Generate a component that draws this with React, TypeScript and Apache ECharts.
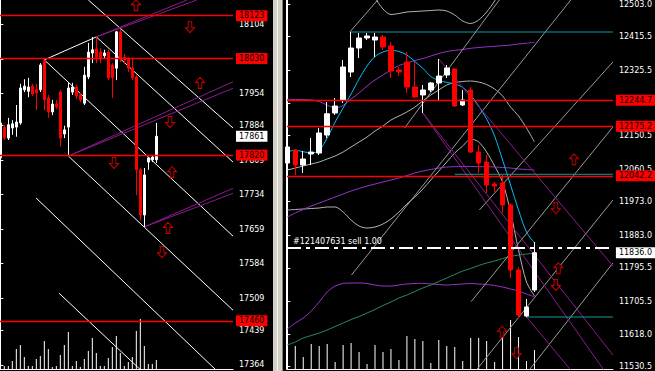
import React, { useEffect, useRef } from "react";
import * as echarts from "echarts";

// ---------------- LEFT PANEL (bar index, price) ----------------
const leftOpen = [17814, 17881, 17857, 17879, 17881, 17890, 17962, 17959, 17970, 17962, 17962, 18025, 17944, 17914, 17931, 17957, 17866, 17881, 17957, 17968, 17951, 17933, 17990, 18042, 18051, 18044, 18036, 18044, 18016, 18009, 18088, 18033, 18029, 18009, 17990, 17788, 17690, 17805, 17810, 17810];
const leftClose = [17890, 17857, 17886, 17888, 17892, 17966, 17970, 17968, 17953, 17955, 18016, 17940, 17914, 17931, 17925, 17857, 17875, 17966, 17968, 17949, 17940, 17994, 18044, 18049, 18033, 18031, 18042, 17988, 17988, 18088, 18029, 18027, 18009, 17988, 17788, 17690, 17777, 17814, 17816, 17861];
const leftLow = [17803, 17853, 17853, 17864, 17860, 17886, 17957, 17946, 17949, 17918, 17957, 17918, 17901, 17907, 17920, 17838, 17857, 17818, 17951, 17942, 17935, 17929, 17985, 18020, 18020, 18020, 18031, 17983, 17944, 17983, 18022, 18018, 18001, 17983, 17733, 17679, 17664, 17788, 17805, 17803];
const leftHigh = [17901, 17886, 17901, 17896, 17929, 17975, 17985, 17988, 17975, 17975, 18020, 18027, 17951, 17940, 17940, 17962, 17884, 17977, 17977, 17973, 17955, 18012, 18064, 18077, 18077, 18053, 18049, 18049, 18020, 18090, 18094, 18040, 18033, 18031, 17994, 17792, 17792, 17816, 17820, 17890];
const leftVolume = [190, 30, 30, 80, 200, 240, 120, 30, 30, 100, 130, 280, 200, 20, 30, 140, 240, 370, 30, 80, 20, 100, 180, 310, 160, 30, 30, 110, 220, 330, 160, 30, 70, 120, 380, 500, 230, 50, 50, 90];

const leftTicks = [17364, 17439, 17509, 17584, 17659, 17734, 17809, 17884, 17954, 18029, 18104];
const leftLevels = [18123, 18030, 17820, 17460];
const leftBid = 17861;

const leftWhiteLines = [
  [[11, 18027], [24, 18077]],
  [[22, 18157.2], [58.17, 17879]],
  [[24, 18077], [58.17, 17805]],
  [[11, 18027], [58.17, 17644]],
  [[17, 17818], [58.17, 17483]],
  [[8.92, 17727], [53.92, 17353]],
  [[14.67, 17520], [35.1, 17353]],
];
const leftPurpleLines = [
  [[17, 17818], [58.17, 17979.6]],
  [[17, 17818], [58.17, 17965.3]],
  [[36, 17664], [58.17, 17748]],
  [[36, 17664], [58.17, 17737]],
  [[24, 18077], [46.67, 18157.2]],
  [[24, 18077], [49.1, 18157.2]],
];
const leftArrowsUp = [[33.92, 18146], [49.92, 17977], [42.92, 17783], [41.92, 17662]];
const leftArrowsDown = [[47.42, 18098], [42.42, 17892], [28.42, 17803], [40.42, 17609]];

// ---------------- RIGHT PANEL ----------------
const rightOpen = [12076.6, 12111.5, 12071.3, 12100.8, 12103.5, 12151.7, 12210.7, 12245.6, 12320.6, 12385.0, 12411.8, 12406.4, 12414.5, 12390.4, 12326.0, 12347.5, 12280.4, 12259.0, 12272.4, 12291.2, 12312.6, 12328.7, 12232.2, 12272.4, 12106.1, 12079.3, 12020.3, 12023.0, 11964.0, 11789.7, 11666.4, 11736.1];
const rightClose = [12119.6, 12071.3, 12087.4, 12106.1, 12157.1, 12208.7, 12229.5, 12334.1, 12385.0, 12411.8, 12417.2, 12414.5, 12387.7, 12323.3, 12320.6, 12280.4, 12253.6, 12272.4, 12291.2, 12309.9, 12331.4, 12229.5, 12245.6, 12106.1, 12076.6, 12017.7, 12015.0, 11964.0, 11789.7, 11669.1, 11690.5, 11836.0];
const rightLow = [12071.3, 12044.5, 12049.8, 12071.3, 12098.1, 12143.7, 12205.4, 12237.5, 12307.2, 12358.2, 12406.4, 12360.9, 12379.6, 12304.6, 12309.9, 12264.3, 12250.9, 12210.7, 12267.0, 12245.6, 12304.6, 12226.8, 12229.5, 12103.5, 12049.8, 11996.2, 11998.9, 11942.6, 11768.3, 11661.0, 11663.7, 11730.8];
const rightHigh = [12130.3, 12114.2, 12108.8, 12143.7, 12170.5, 12240.2, 12250.9, 12352.8, 12427.9, 12425.2, 12425.2, 12425.2, 12419.9, 12401.1, 12334.1, 12374.3, 12347.5, 12285.8, 12293.8, 12355.5, 12339.4, 12331.4, 12272.4, 12280.4, 12124.9, 12098.1, 12025.7, 12044.5, 11969.4, 11797.8, 11712.0, 11864.8];
const rightVolume = [217, 230, 120, 250, 230, 250, 70, 240, 260, 170, 50, 240, 170, 200, 90, 330, 300, 280, 60, 290, 230, 220, 80, 310, 310, 280, 70, 340, 490, 320, 80, 190];

const cyanMA = [12106.9, 12110.7, 12106.9, 12103.5, 12110.2, 12143.7, 12186.6, 12224.1, 12261.7, 12301.9, 12336.7, 12362.2, 12374.3, 12378.8, 12375.6, 12366.2, 12348.8, 12330.6, 12308.6, 12297.9, 12293.0, 12288.5, 12279.1, 12259.0, 12229.5, 12194.6, 12149.0, 12084.7, 12017.7, 11950.6, 11891.6, 11862.1];
const bandUpper = [12621.0, 12615.6, 12607.5, 12602.2, 12599.5, 12594.1, 12588.8, 12594.1, 12588.8, 12572.7, 12545.9, 12519.1, 12489.6, 12474.8, 12477.5, 12481.5, 12482.9, 12484.2, 12485.5, 12486.9, 12484.2, 12473.5, 12457.4, 12450.7, 12460.1, 12481.5, 12511.0, 12545.9, 12594.1, 12634.4, 12669.2, 12688.0];
const bandMiddle = [12057.9, 12063.2, 12068.6, 12074.0, 12079.3, 12087.4, 12095.4, 12106.1, 12119.6, 12133.0, 12146.4, 12162.4, 12175.9, 12191.9, 12202.7, 12213.4, 12226.8, 12242.9, 12259.0, 12272.4, 12285.8, 12292.5, 12295.2, 12296.5, 12293.8, 12287.1, 12275.1, 12256.3, 12226.8, 12202.7, 12170.5, 12133.0];
const bandLower = [11950.6, 11952.0, 11953.3, 11954.6, 11956.0, 11958.7, 11958.7, 11945.3, 11923.8, 11907.7, 11902.4, 11905.0, 11913.1, 11926.5, 11945.3, 11966.7, 11985.5, 12006.9, 12031.1, 12055.2, 12079.3, 12103.5, 12122.2, 12141.0, 12133.0, 12106.1, 12068.6, 12025.7, 11945.3, 11843.4, 11757.6, 11720.0];
const envUpper = [12247.4, 12246.9, 12246.4, 12245.6, 12241.5, 12232.2, 12224.1, 12230.8, 12248.3, 12264.3, 12283.1, 12299.2, 12312.6, 12326.0, 12338.1, 12344.8, 12351.5, 12356.8, 12363.5, 12370.3, 12375.6, 12378.8, 12381.0, 12384.2, 12386.3, 12388.2, 12389.6, 12391.2, 12392.8, 12395.7, 12397.9, 12400.3];
const envMiddle = [11931.9, 11942.6, 11952.0, 11961.4, 11969.4, 11977.4, 11985.5, 11993.5, 12001.6, 12008.3, 12015.0, 12020.3, 12025.7, 12031.1, 12036.4, 12043.1, 12049.8, 12055.2, 12059.2, 12063.2, 12065.9, 12066.7, 12067.3, 12067.3, 12066.7, 12066.7, 12065.9, 12064.6, 12063.2, 12060.6, 12059.2, 12057.9];
const envLower = [11631.6, 11647.6, 11661.0, 11679.8, 11703.9, 11730.8, 11746.8, 11753.6, 11754.9, 11754.9, 11753.6, 11749.5, 11746.8, 11746.8, 11749.5, 11752.2, 11753.6, 11754.1, 11752.2, 11750.9, 11749.5, 11750.9, 11752.2, 11753.6, 11752.2, 11750.9, 11748.2, 11744.2, 11738.8, 11733.4, 11725.4, 11717.4];
const slowMA = [11588.7, 11596.7, 11607.4, 11614.1, 11620.8, 11628.9, 11638.3, 11647.6, 11657.0, 11665.1, 11674.5, 11683.8, 11694.6, 11703.9, 11714.7, 11722.7, 11732.1, 11741.5, 11749.5, 11758.9, 11768.3, 11777.7, 11787.1, 11793.8, 11801.8, 11808.5, 11813.9, 11820.6, 11825.9, 11830.0, 11832.6, 11834.5];

const rightTicks = [11530.5, 11618.0, 11705.5, 11795.5, 11883.0, 11973.0, 12060.5, 12150.5, 12238.0, 12325.5, 12415.5, 12503.0];
const rightLevels = [12244.7, 12175.2, 12042.2];
const rightBid = 11836.0;
const orderPrice = 11850.6;
const orderText = "#121407631 sell 1.00";

const rightGreyLines = [
  [[8.05, 11776.3], [35.55, 12513.7]],
  [[23.05, 11704.8], [40.84, 12173.2]],
  [[23.71, 11521.6], [40.84, 11977.4]],
  [[30.34, 11521.6], [40.84, 11808.5]],
  [[14.71, 12170.5], [26.59, 12513.7]],
  [[7.84, 12427.9], [11.34, 12513.7]],
  [[24.09, 11950.6], [40.84, 12347.5]],
];
const rightPurpleLines = [
  [[17, 12210.7], [40.84, 11561.8]],
  [[17, 12210.7], [39.7, 11521.6]],
  [[19, 12355.5], [40.84, 11800.5]],
  [[30, 11663.7], [35.55, 11521.6]],
];
const rightTealLines = [
  [[8, 12427.9], [40.84, 12427.9]],
  [[21, 12046.4], [40.84, 12046.4]],
  [[30, 11663.7], [40.84, 11663.7]],
];
const rightArrowsUp = [[35.96, 12086.6], [34.0, 11794.3], [26.93, 11624.3]];
const rightArrowsDown = [[33.68, 11955.2], [33.68, 11749.5], [28.75, 11566.4]];

// ---------------- helpers ----------------
const FONT = "DejaVu Sans";
const UP_ARROW = "path://M5,0L10,5L7,5L7,11L3,11L3,5L0,5Z";
const DOWN_ARROW = "path://M3,0L7,0L7,6L10,6L5,11L0,6L3,6Z";

const seg = (pts: number[][], color: string, xi: number, yi: number) => ({
  type: "line",
  xAxisIndex: xi,
  yAxisIndex: yi,
  data: pts,
  symbol: "none",
  silent: true,
  clip: true,
  z: 3,
  lineStyle: { color, width: 1 },
});

const curve = (vals: number[], color: string, xi: number, yi: number) => ({
  type: "line",
  xAxisIndex: xi,
  yAxisIndex: yi,
  data: vals.map((v, i) => [i, v]),
  symbol: "none",
  silent: true,
  clip: true,
  smooth: 0.3,
  z: 2,
  lineStyle: { color, width: 1 },
});

const arrows = (pts: number[][], up: boolean, xi: number, yi: number) => ({
  type: "scatter",
  xAxisIndex: xi,
  yAxisIndex: yi,
  data: pts,
  symbol: up ? UP_ARROW : DOWN_ARROW,
  symbolSize: [9, 11],
  silent: true,
  z: 6,
  itemStyle: { color: "#000", borderColor: "#ff0000", borderWidth: 1 },
});

const boxLabel = (text: string, bg: string) => ({
  show: true,
  position: "end",
  distance: 3,
  formatter: () => text,
  backgroundColor: bg,
  color: "#000000",
  opacity: 1,
  fontFamily: FONT,
  fontSize: 8,
  padding: [2, 3, 1, 3],
});

const levelLine = (v: number, digits: number) => ({
  yAxis: v,
  lineStyle: { color: "#ff0000", width: 1.4, type: "solid" },
  label: boxLabel(v.toFixed(digits), "#ff0000"),
});

const bidLine = (v: number, digits: number) => ({
  yAxis: v,
  lineStyle: { color: "rgba(0,0,0,0)", width: 1, type: "solid" },
  label: boxLabel(v.toFixed(digits), "#ffffff"),
});

const priceAxis = (grid: number, min: number, max: number, ticks: number[], digits: number) => ({
  type: "value",
  gridIndex: grid,
  position: "right",
  min,
  max,
  scale: true,
  axisLine: { show: true, lineStyle: { color: "#ffffff", width: 1 } },
  axisTick: { show: true, length: 3, inside: false, customValues: ticks, lineStyle: { color: "#ffffff" } },
  axisLabel: {
    show: true,
    customValues: ticks,
    margin: 6,
    color: "#ffffff",
    fontFamily: FONT,
    fontSize: 8,
    formatter: (v: number) => v.toFixed(digits),
  },
  splitLine: { show: false },
});

const volAxis = (grid: number) => ({
  type: "value",
  gridIndex: grid,
  min: 0,
  max: 3690,
  show: false,
  splitLine: { show: false },
});

const timeAxis = (grid: number, min: number, max: number) => ({
  type: "value",
  gridIndex: grid,
  min,
  max,
  axisLine: { show: true, onZero: false, lineStyle: { color: "#ffffff", width: 1 } },
  axisTick: { show: false },
  axisLabel: { show: false },
  splitLine: { show: false },
});

const candleStyle = {
  color: "#ffffff",
  color0: "#ff0000",
  borderColor: "#ffffff",
  borderColor0: "#ff0000",
  borderWidth: 1,
};

function buildOption() {
  const leftCandles = leftOpen.map((o, i) => [i, o, leftClose[i], leftLow[i], leftHigh[i]]);
  const rightCandles = rightOpen.map((o, i) => [i, o, rightClose[i], rightLow[i], rightHigh[i]]);

  const series: any[] = [
    {
      type: "bar",
      xAxisIndex: 0,
      yAxisIndex: 1,
      data: leftVolume.map((v, i) => [i, v]),
      barWidth: 1,
      silent: true,
      z: 1,
      itemStyle: { color: "#ffffff" },
    },
    {
      type: "bar",
      xAxisIndex: 1,
      yAxisIndex: 3,
      data: rightVolume.map((v, i) => [i, v]),
      barWidth: 1,
      silent: true,
      z: 1,
      itemStyle: { color: "#ffffff" },
    },
    curve(bandUpper, "#b4b4b4", 1, 2),
    curve(bandMiddle, "#b4b4b4", 1, 2),
    curve(bandLower, "#b4b4b4", 1, 2),
    curve(envUpper, "#9932cc", 1, 2),
    curve(envMiddle, "#9932cc", 1, 2),
    curve(envLower, "#9932cc", 1, 2),
    curve(slowMA, "#2e8b57", 1, 2),
    curve(cyanMA, "#00bfff", 1, 2),
    {
      type: "candlestick",
      xAxisIndex: 0,
      yAxisIndex: 0,
      data: leftCandles,
      barWidth: 3,
      silent: true,
      z: 4,
      itemStyle: candleStyle,
      markLine: {
        silent: true,
        symbol: ["none", "none"],
        precision: 1,
        data: [...leftLevels.map((v) => levelLine(v, 0)), bidLine(leftBid, 0)],
      },
    },
    {
      type: "candlestick",
      xAxisIndex: 1,
      yAxisIndex: 2,
      data: rightCandles,
      barWidth: 5,
      silent: true,
      z: 4,
      itemStyle: candleStyle,
      markLine: {
        silent: true,
        symbol: ["none", "none"],
        precision: 1,
        data: [
          ...rightLevels.map((v) => levelLine(v, 1)),
          bidLine(rightBid, 1),
          {
            yAxis: orderPrice,
            lineStyle: { color: "#ffffff", width: 2, type: [14, 5, 4, 5] },
            label: {
              show: true,
              position: "insideStartTop",
              distance: [6, 2],
              formatter: () => orderText,
              color: "#ffffff",
              fontFamily: FONT,
              fontSize: 8,
            },
          },
        ],
      },
    },
  ];

  leftWhiteLines.forEach((l) => series.push(seg(l, "#ffffff", 0, 0)));
  leftPurpleLines.forEach((l) => series.push(seg(l, "#8b1c8b", 0, 0)));
  rightGreyLines.forEach((l) => series.push(seg(l, "#9a9a9a", 1, 2)));
  rightPurpleLines.forEach((l) => series.push(seg(l, "#8b1c8b", 1, 2)));
  rightTealLines.forEach((l) => series.push(seg(l, "#119c9c", 1, 2)));
  series.push(arrows(leftArrowsUp, true, 0, 0));
  series.push(arrows(leftArrowsDown, false, 0, 0));
  series.push(arrows(rightArrowsUp, true, 1, 2));
  series.push(arrows(rightArrowsDown, false, 1, 2));

  return {
    animation: false,
    backgroundColor: "#000000",
    textStyle: { fontFamily: FONT },
    grid: [
      { left: 0, top: 0, width: 233, height: 369 },
      { left: 287, top: 0, width: 327, height: 369 },
    ],
    xAxis: [timeAxis(0, -0.0825, 58.1675), timeAxis(1, -0.0375, 40.8375)],
    yAxis: [
      priceAxis(0, 17355.2, 18157.2, leftTicks, 0),
      volAxis(0),
      priceAxis(1, 11524.3, 12513.7, rightTicks, 1),
      volAxis(1),
    ],
    series,
    graphic: [
      { type: "rect", silent: true, shape: { x: 273, y: 0, width: 10, height: 371 }, style: { fill: "#d4d0c8" } },
      { type: "line", silent: true, shape: { x1: 277.5, y1: 0, x2: 277.5, y2: 371 }, style: { stroke: "#f4f4f4", lineWidth: 1 } },
      { type: "line", silent: true, shape: { x1: 282.5, y1: 0, x2: 282.5, y2: 371 }, style: { stroke: "#808080", lineWidth: 1 } },
      { type: "line", silent: true, shape: { x1: 286.5, y1: 0, x2: 286.5, y2: 369.5 }, style: { stroke: "#ffffff", lineWidth: 1 } },
    ],
  };
}

export default function App() {
  const ref = useRef<HTMLDivElement>(null);
  useEffect(() => {
    document.body.style.margin = "0";
    const chart = echarts.init(ref.current as HTMLDivElement, null, { renderer: "svg" });
    chart.setOption(buildOption() as any);
    return () => chart.dispose();
  }, []);
  return (
    <div
      ref={ref}
      style={{ position: "absolute", left: 0, top: 0, width: 655, height: 371, background: "#000" }}
    />
  );
}
